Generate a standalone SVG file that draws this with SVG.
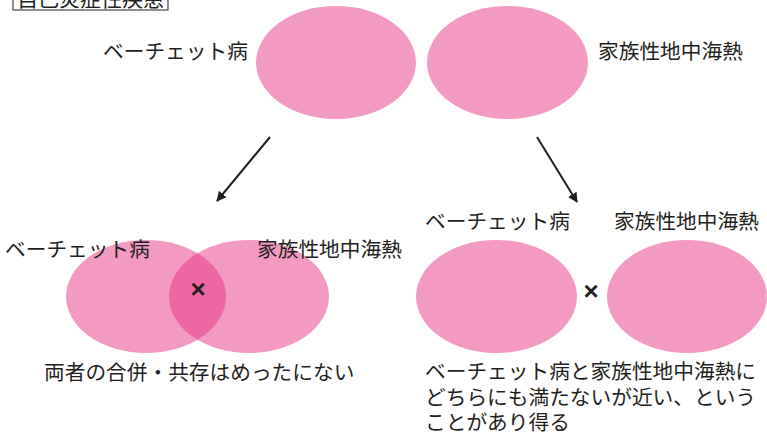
<svg xmlns="http://www.w3.org/2000/svg" width="767" height="436" viewBox="0 0 767 436">
<style>
.t{font-family:"Noto Sans CJK JP","Liberation Sans",sans-serif;font-size:20.7px;fill:#231F20}
.e{fill:#F39AC3}
.x{font-family:"Liberation Sans",sans-serif;font-size:26px;font-weight:bold;fill:#231F20}
</style>
<defs>
<marker id="ah" viewBox="0 0 10 10" refX="9" refY="5" markerWidth="5" markerHeight="5" orient="auto" markerUnits="strokeWidth">
<path d="M0,0 L10,5 L0,10 z" fill="#231F20"/>
</marker>
<clipPath id="cl"><ellipse cx="146" cy="296.5" rx="80" ry="56.5"/></clipPath>
</defs>
<g id="title">
<rect x="13" y="-20" width="155" height="30" fill="#fff" stroke="#231F20" stroke-width="1"/>
<text class="t" x="17" y="6" style="font-size:21px">自己炎症性疾患</text>
</g>
<g id="top-behcet">
<ellipse class="e" cx="336" cy="62.5" rx="80" ry="56.5"/>
<text class="t" x="103" y="59">ベーチェット病</text>
</g>
<g id="top-fmf">
<ellipse class="e" cx="507.5" cy="62.5" rx="80.5" ry="56.5"/>
<text class="t" x="598" y="59">家族性地中海熱</text>
</g>
<g id="connectors" stroke="#231F20" stroke-width="2" fill="none">
<line x1="270" y1="137" x2="217" y2="201" marker-end="url(#ah)"/>
<line x1="537" y1="137" x2="577" y2="202" marker-end="url(#ah)"/>
</g>
<g id="overlap">
<ellipse class="e" cx="146" cy="296.5" rx="80" ry="56.5"/>
<ellipse class="e" cx="249" cy="296.5" rx="80" ry="56.5"/>
<ellipse cx="249" cy="296.5" rx="80" ry="56.5" fill="#EE66A3" clip-path="url(#cl)"/>
<text class="t" x="5" y="257">ベーチェット病</text>
<text class="t" x="257" y="257">家族性地中海熱</text>
<text class="x" x="198" y="298" text-anchor="middle">×</text>
<text class="t" x="44" y="380">両者の合併・共存はめったにない</text>
</g>
<g id="separate">
<ellipse class="e" cx="496.5" cy="296.5" rx="80.5" ry="56.5"/>
<ellipse class="e" cx="687" cy="296.5" rx="80" ry="56.5"/>
<text class="t" x="425" y="229">ベーチェット病</text>
<text class="t" x="614" y="229">家族性地中海熱</text>
<text class="x" x="591" y="300" text-anchor="middle">×</text>
<text class="t" x="425" y="379">ベーチェット病と家族性地中海熱に</text>
<text class="t" x="425" y="405">どちらにも満たないが近い、という</text>
<text class="t" x="425" y="430">ことがあり得る</text>
</g>
</svg>
